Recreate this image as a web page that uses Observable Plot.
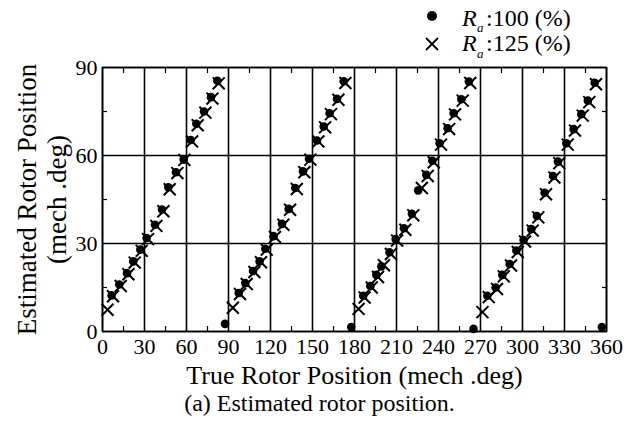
<!DOCTYPE html>
<html>
<head>
<meta charset="utf-8">
<script src="https://cdn.jsdelivr.net/npm/d3@7"></script>
<script src="https://cdn.jsdelivr.net/npm/@observablehq/plot@0.6"></script>
<style>
  html, body { margin: 0; padding: 0; background: #fff; }
  #wrap { position: relative; width: 639px; height: 423px; font-family: 'Liberation Serif', 'Times New Roman', serif; color: #000; overflow: hidden; }
  #chart { position: absolute; left: 0; top: 0; }
  #legend { position: absolute; left: 0; top: 0; width: 639px; height: 70px; font-family: 'Liberation Serif', 'Times New Roman', serif; }
  #caption { position: absolute; left: 0; width: 639px; text-align: center; top: 389px; font-size: 24px; line-height: 28px; white-space: nowrap; font-family: 'Liberation Serif', 'Times New Roman', serif; }
</style>
</head>
<body>
<div id="wrap">
  <div id="chart"></div>
  <svg id="legend" width="639" height="70" font-size="24">
    <circle cx="432" cy="16" r="5" fill="#000"></circle>
    <text x="462" y="26" font-style="italic">R</text>
    <text x="477" y="32" font-style="italic" font-size="13">a</text>
    <text x="486" y="26">:100 (%)</text>
    <path d="M426,38 L438,50 M438,38 L426,50" stroke="#000" stroke-width="1.8" fill="none"></path>
    <text x="462" y="51" font-style="italic">R</text>
    <text x="477" y="58" font-style="italic" font-size="13">a</text>
    <text x="486" y="51">:125 (%)</text>
  </svg>
  <div id="caption">(a) Estimated rotor position.</div>
</div>
<script>
// Series: Ra = 100 %  (filled dots)
const dotX = [6.5,12,17.5,22,27,31.5,37.5,42.5,47,52.5,58,63,67,72.5,77.5,82,87.5,
  97.3,102,107.5,112.2,116.3,122.2,128.2,133,137.7,143.2,147.5,153.2,158,162.2,167.5,172.3,177.7,
  186.2,191.3,195.6,199.2,205,209.4,215.3,221,225.5,231.3,235.6,240.8,246.5,250.8,256.3,261.7,265,
  274.9,280.8,285.6,290.8,295.6,300.8,306.3,310.3,315.8,321.8,325.3,331.3,336.5,342,346.7,351.5,356.7];
const dotY = [12.3,16,19.9,23.9,27.9,31.9,36.4,41.6,49.2,54.3,58.6,65.3,70.8,75,79.9,85.5,2.6,
  13.1,16.5,20.6,23.9,28.2,32.5,36.7,41.8,48.9,54.6,58.9,65.1,69.9,74.4,79.3,85.3,1.5,
  12.2,15.5,19.3,22.2,27,31.5,35.2,40.1,48.1,53.4,58.2,64.2,69.3,74.4,79.2,85.2,0.9,
  12.2,15,19.3,23,27.6,31.2,34.9,39.4,47.3,53,57.9,64.2,69,74.1,78.7,84.8,1.5];

// Series: Ra = 125 %  (crosses)
const crossX = [3.6,7.5,13,18.5,23,28,32.5,38.5,43.5,48,53.5,58.5,64,68,73.5,78.5,83,
  93.1,98.2,103,108.5,113.2,117.3,123.2,129.2,134,138.8,144.2,148.5,154.2,159,163.2,168.5,173.5,
  182.9,187.2,192.3,196.8,201,206,210.4,216.3,222,228.1,232.3,236.6,241.8,247.6,251.8,257.3,262.7,
  271.4,275.9,281.8,286.6,291.8,296.6,301.8,307.3,311.3,316.8,322.8,326.3,332.3,337.5,343,347.7,352.5];
const crossY = [7.4,12,15.5,19.5,23.5,27.5,31.5,36,41,48.5,54,58.5,64.8,70.3,74.6,79.4,84.6,
  8.1,12.8,16.2,20.3,23.6,27.9,32.2,36.4,41.5,48.6,54.3,58.6,64.8,69.6,74.1,79,84.7,
  7.7,11.6,15,18.6,22.6,26.4,31,34.7,39.6,48.9,53,57.7,63.7,69,74,78.7,84.7,
  6.6,11.7,14.5,18.8,22.5,27.1,30.7,34.4,38.9,46.8,52.5,57.4,63.7,68.5,73.6,78.2,84.3];

// Axes
const xTicks = [0,30,60,90,120,150,180,210,240,270,300,330,360];
const xMinor = [15,45,75,105,135,165,195,225,255,285,315,345];
const yTicks = [0,30,60,90];
const yMinor = [15,45,75];
const xLabel = "True Rotor Position (mech .deg)";
const yLabel = "Estimated Rotor Position\n(mech .deg)";

const dots = dotX.map((x, i) => ({x, y: dotY[i]}));
const crosses = crossX.map((x, i) => ({x, y: crossY[i]}));

const chart = Plot.plot({
  width: 639,
  height: 423,
  marginLeft: 102,
  marginRight: 33,
  marginTop: 67,
  marginBottom: 92,
  style: {fontFamily: "'Liberation Serif', 'Times New Roman', serif", fontSize: "22px", color: "#000", background: "transparent"},
  x: {domain: [0, 360]},
  y: {domain: [0, 90]},
  marks: [
    Plot.gridX(xTicks, {stroke: "#000", strokeOpacity: 1, strokeWidth: 1.6}),
    Plot.gridY(yTicks, {stroke: "#000", strokeOpacity: 1, strokeWidth: 1.6}),
    Plot.frame({stroke: "#000", strokeWidth: 1.6}),
    Plot.axisX(xMinor, {anchor: "bottom", tickSize: -5, text: null, label: null, strokeWidth: 1.2}),
    Plot.axisX(xMinor, {anchor: "top", tickSize: -5, text: null, label: null, strokeWidth: 1.2}),
    Plot.axisY(yMinor, {anchor: "left", tickSize: -5, text: null, label: null, strokeWidth: 1.2}),
    Plot.axisY(yMinor, {anchor: "right", tickSize: -5, text: null, label: null, strokeWidth: 1.2}),
    Plot.axisX(xTicks, {anchor: "bottom", tickSize: 0, tickPadding: 7, label: null, fontSize: 22}),
    Plot.axisX({anchor: "bottom", ticks: [], tickSize: 0, label: xLabel, labelAnchor: "center", labelArrow: "none", labelOffset: 52, fontSize: 26}),
    Plot.axisY(yTicks, {anchor: "left", tickSize: 0, tickPadding: 5, label: null, fontSize: 22}),
    Plot.text([yLabel], {frameAnchor: "left", rotate: -90, textAnchor: "middle", lineAnchor: "middle", dx: -61.5, dy: 0, lineHeight: 1.12, fontSize: 27, fill: "#000"}),
    Plot.dot(crosses, {x: "x", y: "y", symbol: "times", r: 5.5, stroke: "#000", strokeWidth: 2}),
    Plot.dot(dots, {x: "x", y: "y", r: 4.3, fill: "#000", stroke: "none"})
  ]
});
document.getElementById("chart").appendChild(chart);
</script>
</body>
</html>
